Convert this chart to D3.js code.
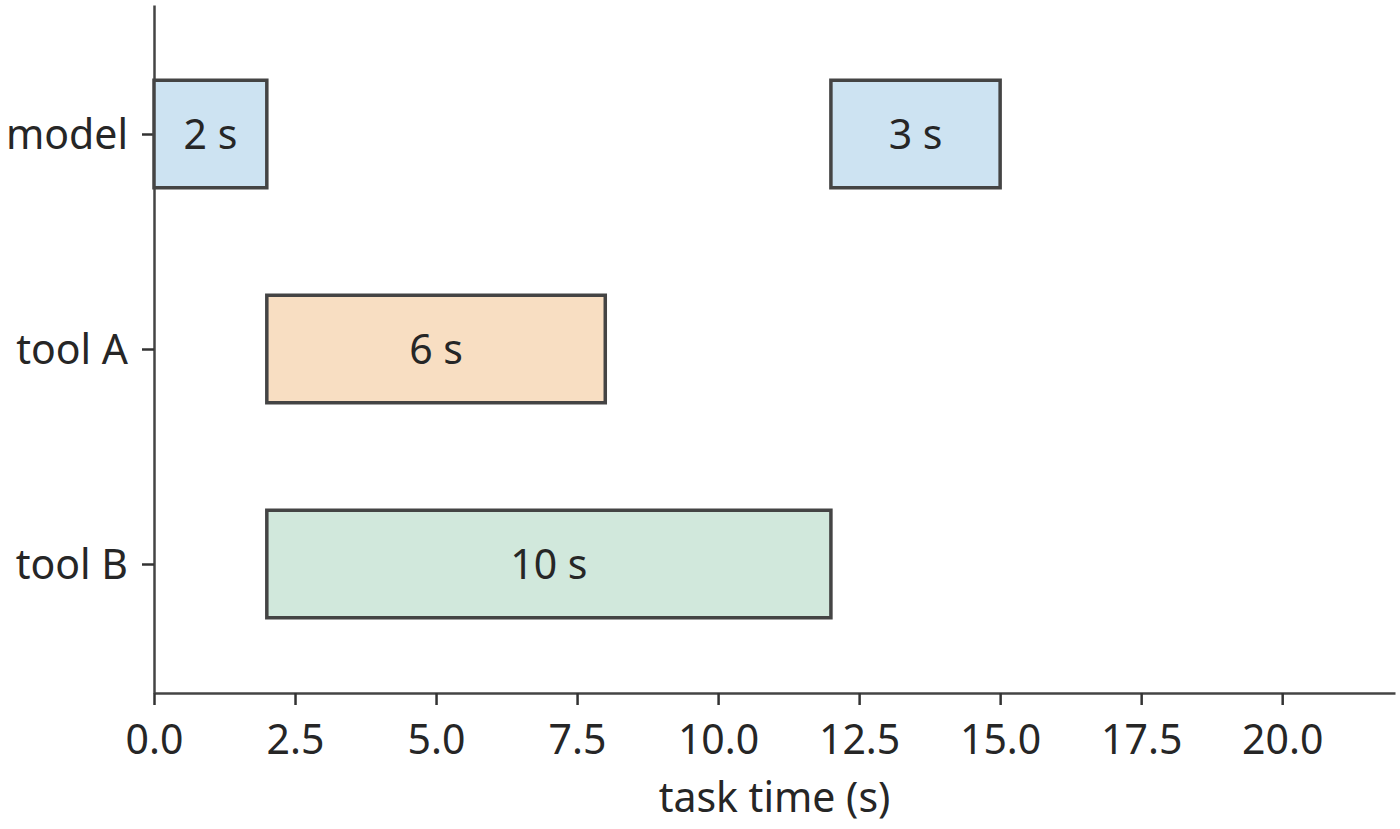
<!DOCTYPE html>
<html>
<head>
<meta charset="utf-8">
<script src="https://cdn.jsdelivr.net/npm/d3@7"></script>
<style>
  body { margin: 0; background: #fff; }
  text { font-family: "Noto Sans", sans-serif; fill: #262626; }
</style>
</head>
<body>
<div id="chart"></div>
<script>
const categories = ["model", "tool A", "tool B"];
const taskCat = ["model", "model", "tool A", "tool B"];
const taskStart = [0, 12, 2, 2];
const taskDur = [2, 3, 6, 10];
const taskLabels = ["2 s", "3 s", "6 s", "10 s"];
const fillColors = {"model": "#cde3f2", "tool A": "#f8dec2", "tool B": "#d1e8dc"};
const xTicks = [0, 2.5, 5, 7.5, 10, 12.5, 15, 17.5, 20];

const width = 1400, height = 829;
const fontSize = 41;

const svg = d3.select("#chart").append("svg")
  .attr("width", width)
  .attr("height", height);

const x = d3.scaleLinear().domain([0, 22]).range([154, 1395]);
const y = d3.scalePoint().domain(categories).range([5, 693]).padding(0.6);
const barH = y.step() * 0.5;

// x axis
const xAxis = svg.append("g")
  .attr("transform", `translate(0, ${693})`)
  .call(d3.axisBottom(x).tickValues(xTicks).tickFormat(d3.format(".1f"))
    .tickSize(12).tickSizeOuter(0).tickPadding(20));
xAxis.select(".domain").attr("stroke", "#444").attr("stroke-width", 2.5);
xAxis.selectAll(".tick line").attr("stroke", "#333").attr("stroke-width", 2.5);
xAxis.selectAll(".tick text").style("font-size", fontSize + "px")
  .style("font-family", "Noto Sans").attr("fill", "#262626");

// y axis
const yAxis = svg.append("g")
  .attr("transform", `translate(${154}, 0)`)
  .call(d3.axisLeft(y).tickSize(12).tickSizeOuter(0).tickPadding(14));
yAxis.select(".domain").attr("stroke", "#444").attr("stroke-width", 2.5);
yAxis.selectAll(".tick line").attr("stroke", "#333").attr("stroke-width", 2.5);
yAxis.selectAll(".tick text").style("font-size", fontSize + "px")
  .style("font-family", "Noto Sans").attr("fill", "#262626").attr("dy", "0.36em");

// bars
const bars = svg.append("g").selectAll("g")
  .data(taskCat.map((c, i) => ({cat: c, start: taskStart[i], dur: taskDur[i], label: taskLabels[i]})))
  .join("g");

bars.append("rect")
  .attr("x", d => x(d.start))
  .attr("y", d => y(d.cat) - barH / 2)
  .attr("width", d => x(d.start + d.dur) - x(d.start))
  .attr("height", barH)
  .attr("fill", d => fillColors[d.cat])
  .attr("stroke", "#444")
  .attr("stroke-width", 3.5);

bars.append("text")
  .attr("x", d => x(d.start + d.dur / 2))
  .attr("y", d => y(d.cat))
  .attr("dy", "0.36em")
  .attr("text-anchor", "middle")
  .style("font-size", fontSize + "px")
  .text(d => d.label);

// x label
svg.append("text")
  .attr("x", x(11))
  .attr("y", 812)
  .attr("text-anchor", "middle")
  .style("font-size", fontSize + "px")
  .text("task time (s)");
</script>
</body>
</html>
